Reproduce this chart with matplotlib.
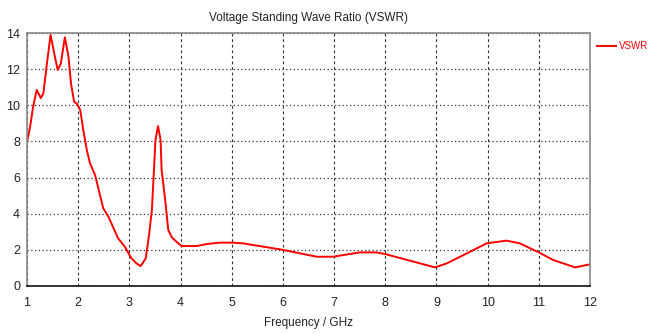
import matplotlib
matplotlib.use("Agg")
import matplotlib.pyplot as plt
from matplotlib.lines import Line2D

freq = [1.00, 1.06, 1.12, 1.19, 1.27, 1.32, 1.38, 1.46, 1.53, 1.60, 1.66, 1.74, 1.81, 1.86, 1.92, 1.98,
        2.04, 2.10, 2.17, 2.23, 2.33, 2.49, 2.59, 2.78, 2.91, 3.04, 3.14, 3.22, 3.32, 3.38, 3.44,
        3.48, 3.51, 3.56, 3.61, 3.63, 3.70, 3.76, 3.83, 3.92, 4.02, 4.31, 4.51, 4.77, 5.00, 5.22,
        6.00, 6.66, 6.98, 7.50, 7.83, 8.02, 8.55, 8.97, 9.20, 9.59, 9.98, 10.37, 10.63, 11.00,
        11.28, 11.71, 12.00]
vswr = [7.98, 8.8, 9.92, 10.85, 10.4, 10.66, 12.1, 13.9, 12.9, 11.95, 12.3, 13.76, 12.7, 11.2, 10.2, 10.07,
        9.74, 8.63, 7.5, 6.8, 6.14, 4.3, 3.84, 2.64, 2.18, 1.53, 1.25, 1.1, 1.53, 2.73, 4.2,
        6.4, 8.08, 8.85, 8.08, 6.42, 4.76, 3.1, 2.69, 2.45, 2.21, 2.21, 2.32, 2.4, 2.4, 2.36,
        2.0, 1.62, 1.62, 1.86, 1.86, 1.75, 1.35, 1.03, 1.25, 1.8, 2.36, 2.51, 2.36, 1.86,
        1.44, 1.03, 1.2]
xticks = list(range(1, 13))
yticks = [0, 2, 4, 6, 8, 10, 12, 14]

plt.rcParams['font.family'] = ['Liberation Sans', 'DejaVu Sans']

fig = plt.figure(figsize=(6.51, 3.34), dpi=100)
ax = fig.add_axes([27/651, 1-286/334, (590-27)/651, (286-33)/334])
ax.plot(freq, vswr, color='#ff0000', lw=1.4, label='VSWR', solid_joinstyle='round')
ax.set_xlim(1, 12)
ax.set_ylim(0, 14)
ax.set_xticks(xticks)
ax.set_yticks(yticks)
ax.tick_params(length=0, labelsize=9, colors='#222222')
ax.tick_params(axis='x', pad=8)
ax.tick_params(axis='y', pad=5)
ax.xaxis.grid(True, color='#333333', linestyle=(0, (2.5, 2.5)), lw=0.8)
ax.yaxis.grid(True, color='#333333', linestyle=(0, (1, 2)), lw=0.9)
for s in ['top', 'right', 'left']:
    ax.spines[s].set_color('#888888')
    ax.spines[s].set_linewidth(1.2)
ax.spines['bottom'].set_color('#111111')
ax.spines['bottom'].set_linewidth(1.2)
ax.set_title('Voltage Standing Wave Ratio (VSWR)', fontsize=8.5, color='#222222', pad=9)
ax.set_xlabel('Frequency / GHz', fontsize=8.5, color='#222222', labelpad=6)

# legend
fig.add_artist(Line2D([597/651, 616/651], [1-46/334, 1-46/334], color='#ff0000', lw=1.4))
fig.text(648/651, 1-46/334, 'VSWR', color='#ff0000', fontsize=7, va='center', ha='right')
fig.savefig('out.png', dpi=100)
